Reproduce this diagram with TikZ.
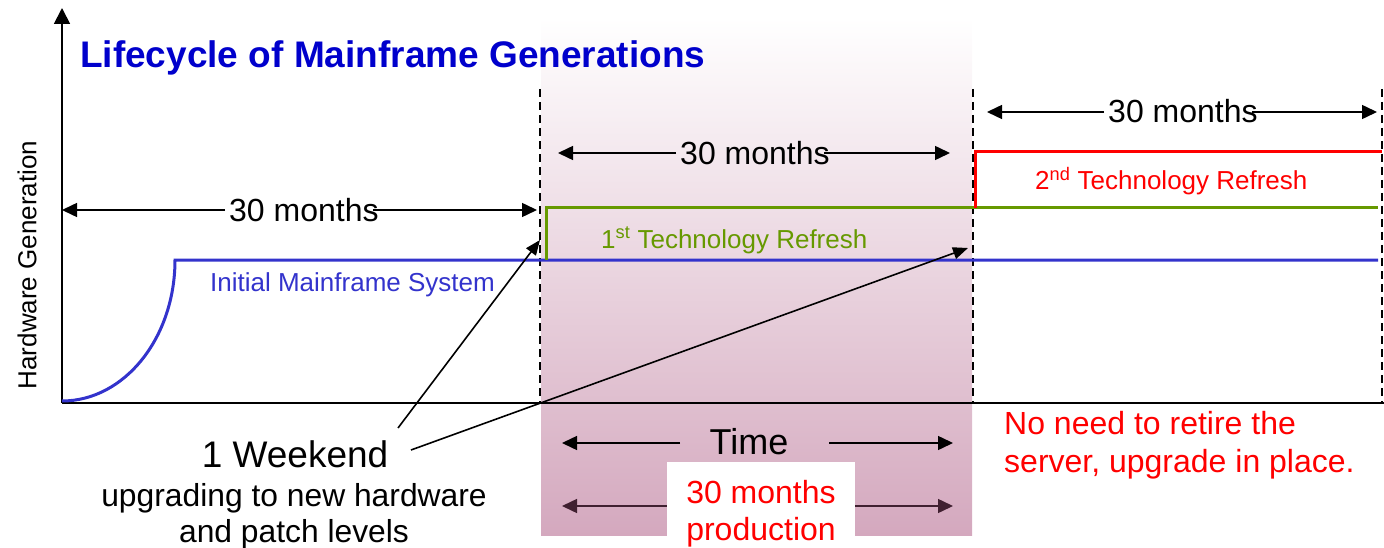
\documentclass[tikz,border=0pt]{standalone}
\usepackage{fontspec}
\setmainfont{Liberation Sans}
\usetikzlibrary{arrows.meta}
\definecolor{tblue}{RGB}{0,0,204}
\definecolor{lblue}{RGB}{51,51,204}
\definecolor{lgreen}{RGB}{102,153,0}
\definecolor{lred}{RGB}{255,0,0}
\definecolor{shadebot}{RGB}{212,168,190}
\definecolor{darrow}{RGB}{64,32,48}
\begin{document}
\begin{tikzpicture}[x=1pt,y=-1pt,
  dimarrow/.style={line width=1.5pt,-{Triangle[length=15pt,width=14pt]}},
  ptrarrow/.style={line width=1.6pt,-{Triangle[length=15pt,width=12pt]}},
  genline/.style={line width=3pt},
  vdash/.style={line width=1.8pt,dash pattern=on 8pt off 5pt},
  lbl/.style={inner sep=0pt,anchor=base west},
  months/.style={inner sep=0pt,anchor=base west,font=\fontsize{32}{38}\selectfont},
  genlbl/.style={inner sep=0pt,anchor=base west,font=\fontsize{26}{31}\selectfont}]
\useasboundingbox (0,0) rectangle (1384,548);
% shaded band
\shade[top color=white,bottom color=shadebot] (541,18) rectangle (972,535);
% axes
\coordinate (o) at (62,403);
\coordinate (ytop) at (62,8);
\coordinate (xend) at (1384,403);
\draw[line width=1.8pt,-{Triangle[length=16pt,width=16pt]}] (o) -- (ytop);
\draw[line width=1.8pt] (o) -- (xend);
% dashed separators
\foreach \n/\x in {d1/540,d2/973,d3/1382}{
  \coordinate (\n t) at (\x,89);
  \coordinate (\n b) at (\x,403);
  \draw[vdash] (\n t) -- (\n b);
}
% generation lines
\coordinate (bs) at (62,401);
\coordinate (be) at (1378,260);
\draw[genline,lblue] (bs) arc[start angle=-90,end angle=0,x radius=113pt,y radius=141pt] -- (be);
\coordinate (gs) at (546,260);
\coordinate (gc) at (546,208);
\coordinate (ge) at (1378,208);
\draw[genline,lgreen] (gs) -- (gc) -- (ge);
\coordinate (rs) at (975,208);
\coordinate (rc) at (975,152);
\coordinate (re) at (1382,152);
\draw[genline,lred] (rs) -- (rc) -- (re);
% labels
\node[lbl,font=\fontsize{37}{40}\selectfont\bfseries,text=tblue] (title) at (80,68) {Lifecycle of Mainframe Generations};
\node[inner sep=0pt,rotate=90,font=\fontsize{26}{30}\selectfont] (ylab) at (27,265) {Hardware Generation};
\node[genlbl,text=lblue] (init) at (210,291) {Initial Mainframe System};
\node[genlbl,text=lgreen] (first) at (601,248) {1\textsuperscript{st} Technology Refresh};
\node[genlbl,text=lred] (second) at (1035,190) {2\textsuperscript{nd} Technology Refresh};
% 30 months dimension arrows
\node[months] (m1) at (229,222) {30 months};
\coordinate (m1l) at (62,210);
\coordinate (m1r) at (537,210);
\draw[dimarrow] (m1.west |- m1l) ++(-4,0) -- (m1l);
\draw[dimarrow] (m1.east |- m1r) ++(-6,0) -- (m1r);
\node[months] (m2) at (680,165) {30 months};
\coordinate (m2l) at (558,153);
\coordinate (m2r) at (950,153);
\draw[dimarrow] (m2.west |- m2l) ++(-4,0) -- (m2l);
\draw[dimarrow] (m2.east |- m2r) ++(-6,0) -- (m2r);
\node[months] (m3) at (1108,123) {30 months};
\coordinate (m3l) at (987,112);
\coordinate (m3r) at (1377,112);
\draw[dimarrow] (m3.west |- m3l) ++(-4,0) -- (m3l);
\draw[dimarrow] (m3.east |- m3r) ++(-6,0) -- (m3r);
% Time
\node[inner sep=0pt,anchor=base,font=\fontsize{36}{40}\selectfont] (time) at (749,454) {Time};
\coordinate (tl) at (562,443);
\coordinate (tr) at (953,443);
\draw[dimarrow] (680,443) -- (tl);
\draw[dimarrow] (829,443) -- (tr);
% production
\coordinate (pl) at (562,506);
\coordinate (pr) at (953,506);
\draw[line width=1.5pt,darrow,{Triangle[length=15pt,width=14pt]}-{Triangle[length=15pt,width=14pt]}] (pl) -- (pr);
\fill[white] (667,462) rectangle (855,550);
\node[inner sep=0pt,anchor=base,text=lred,font=\fontsize{32}{38}\selectfont] (prod1) at (761,503) {30 months};
\node[inner sep=0pt,anchor=base,text=lred,font=\fontsize{32}{38}\selectfont] (prod2) at (761,540) {production};
% weekend
\node[inner sep=0pt,anchor=base,font=\fontsize{37}{42}\selectfont] (wk) at (295,467) {1 Weekend};
\node[inner sep=0pt,anchor=base,font=\fontsize{31.8}{38}\selectfont] (wk2) at (294,506) {upgrading to new hardware};
\node[inner sep=0pt,anchor=base,font=\fontsize{31.8}{38}\selectfont] (wk3) at (294,542) {and patch levels};
\coordinate (a1s) at (398,428);
\coordinate (a1e) at (540,240);
\coordinate (a2s) at (411,450);
\coordinate (a2e) at (968,248);
\draw[ptrarrow] (a1s) -- (a1e);
\draw[ptrarrow] (a2s) -- (a2e);
% no need
\node[lbl,text=lred,font=\fontsize{32}{38}\selectfont] (nn1) at (1004,434) {No need to retire the};
\node[lbl,text=lred,font=\fontsize{32}{38}\selectfont] (nn2) at (1004,472) {server, upgrade in place.};
\end{tikzpicture}
\end{document}
